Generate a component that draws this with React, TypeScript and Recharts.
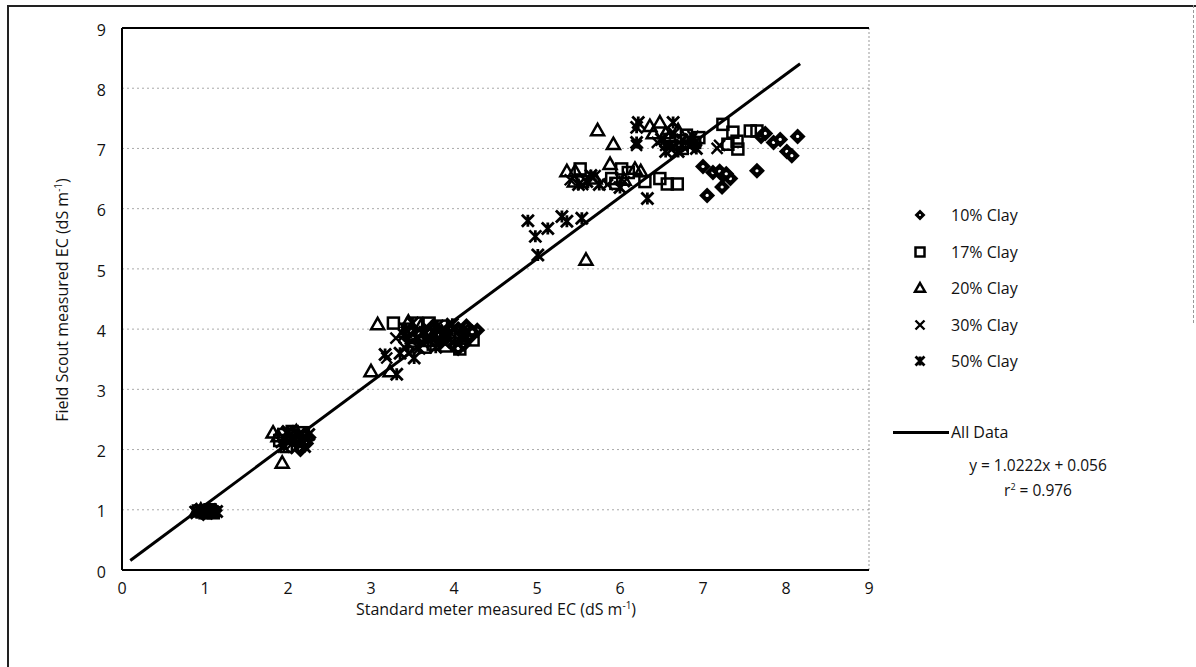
import React from "react";
import {
  ScatterChart,
  Scatter,
  XAxis,
  YAxis,
  CartesianGrid,
  ReferenceLine,
} from "recharts";

// readings: [standard meter EC, Field Scout EC]
const clay10 = [
  [0.95, 0.97], [1.02, 0.98], [1.08, 0.96], [1.12, 0.99], [0.98, 0.94], [1.05, 1.0],
  [2.0, 2.2], [2.1, 2.15], [2.2, 2.25], [2.25, 2.2], [2.15, 2.0], [2.22, 2.1], [2.05, 2.28],
  [3.8, 3.9], [3.9, 3.85], [4.0, 3.72], [4.05, 3.68], [4.05, 4.0], [4.1, 3.8],
  [4.12, 3.75], [4.2, 3.88], [4.28, 3.98], [3.7, 3.95], [4.15, 4.05], [3.95, 4.02],
  [4.22, 3.95], [3.85, 3.8], [3.6, 3.82], [3.75, 4.05],
  [7.0, 6.7], [7.05, 6.22], [7.12, 6.6], [7.24, 6.55], [7.33, 6.5], [7.23, 6.36],
  [7.65, 6.63], [7.7, 7.2], [7.75, 7.25], [7.85, 7.1], [7.93, 7.15], [8.01, 6.95],
  [8.07, 6.88], [8.14, 7.2], [7.2, 6.62], [7.28, 6.58], [6.9, 7.05],
];

const clay17 = [
  [0.92, 0.98], [1.0, 0.95], [1.06, 1.0], [1.1, 0.95],
  [1.9, 2.15], [1.95, 2.25], [2.05, 2.3], [2.12, 2.2], [2.18, 2.28], [1.98, 2.05],
  [3.27, 4.1], [3.45, 4.0], [3.5, 3.8], [3.6, 3.9], [3.75, 3.75], [3.85, 4.05],
  [4.07, 3.67], [4.23, 3.82], [3.95, 3.9], [3.7, 4.1], [4.0, 3.95], [3.55, 4.1],
  [3.65, 3.7], [3.9, 3.72], [3.48, 3.92], [3.82, 3.9], [4.08, 3.85],
  [5.52, 6.66], [5.55, 6.45], [5.9, 6.5], [6.02, 6.66], [6.1, 6.6], [6.48, 6.5],
  [6.57, 6.41], [6.69, 6.41], [6.9, 7.1], [7.24, 7.4], [7.3, 7.07], [7.36, 7.27],
  [7.41, 7.12], [7.42, 6.99], [7.57, 7.29], [7.65, 7.29], [6.6, 7.15], [6.75, 7.0],
  [5.95, 6.42], [6.3, 6.45], [6.8, 7.22], [6.95, 7.18],
];

const clay20 = [
  [0.95, 1.0], [1.05, 0.97], [0.9, 0.98],
  [1.82, 2.28], [1.93, 1.78], [2.0, 2.2], [1.88, 2.22], [2.1, 2.3],
  [3.0, 3.3], [3.08, 4.08], [3.23, 3.3], [3.4, 3.95], [3.6, 4.05], [3.75, 3.9],
  [3.5, 3.85], [3.85, 3.95], [3.45, 4.12], [3.68, 3.8],
  [5.36, 6.62], [5.46, 6.62], [5.59, 5.15], [5.7, 6.5], [5.73, 7.3], [5.88, 6.74],
  [5.92, 7.07], [6.18, 6.66], [6.25, 6.62], [6.36, 7.37], [6.48, 7.43], [6.6, 7.2],
  [6.8, 7.1], [6.4, 7.25], [5.45, 6.45], [6.05, 6.48], [6.7, 7.3], [6.55, 7.25],
];

const clay30 = [
  [0.98, 0.96], [1.1, 0.98], [0.88, 0.97], [1.04, 0.95],
  [1.98, 2.28], [2.05, 2.1], [2.15, 2.25], [2.1, 2.02], [1.92, 2.12],
  [3.19, 3.52], [3.3, 3.85], [3.4, 3.7], [3.55, 3.85], [3.7, 4.0], [3.95, 3.95],
  [3.45, 3.6], [3.62, 3.78], [3.8, 3.98], [4.1, 3.92], [3.58, 3.98], [3.88, 3.78],
  [5.55, 6.4], [5.7, 6.55], [5.85, 6.4], [6.05, 6.45], [6.2, 7.05], [6.55, 7.05],
  [6.65, 7.25], [7.17, 7.0], [7.2, 7.05], [6.45, 7.1], [6.75, 7.15], [5.4, 6.48],
  [6.62, 6.98], [6.88, 7.2],
];

const clay50 = [
  [0.9, 0.95], [1.03, 0.97], [0.95, 1.0], [1.14, 0.97],
  [1.95, 2.05], [2.08, 2.18], [2.2, 2.05], [2.0, 2.3], [2.25, 2.25],
  [3.17, 3.58], [3.31, 3.25], [3.35, 3.6], [3.4, 3.9], [3.45, 3.75], [3.5, 4.1],
  [3.65, 3.95], [3.8, 4.05], [3.42, 4.0], [3.58, 3.68], [3.72, 3.85], [3.98, 4.08],
  [4.12, 4.0], [3.52, 3.52], [3.92, 3.85], [3.78, 3.7],
  [4.89, 5.8], [4.98, 5.54], [5.01, 5.23], [5.13, 5.67], [5.3, 5.87], [5.36, 5.79],
  [5.54, 5.84],
  [5.6, 6.45], [5.75, 6.4], [6.0, 6.35], [6.2, 7.1], [6.2, 7.35], [6.22, 7.43],
  [6.33, 6.17], [6.5, 7.15], [6.55, 6.95], [6.64, 7.43], [6.7, 6.95], [6.6, 7.05],
  [6.85, 7.15], [5.65, 6.55], [5.5, 6.4], [6.75, 7.05], [6.92, 7.0],
];

const fitX = [0.1, 8.17];
const slope = 1.0222;
const intercept = 0.056;

const ticks = [0, 1, 2, 3, 4, 5, 6, 7, 8, 9];
const gridTicks = [1, 2, 3, 4, 5, 6, 7, 8];

const toPts = (arr: number[][]) => arr.map(([x, y]) => ({ x, y }));
const fitLine = fitX.map((x) => ({ x, y: slope * x + intercept }));

const FONT = "'Open Sans', 'Liberation Sans', sans-serif";

function Diamond({ cx, cy, r = 8 }: any) {
  return (
    <g>
      <polygon points={`${cx},${cy - r} ${cx + r},${cy} ${cx},${cy + r} ${cx - r},${cy}`} fill="#000" />
      <circle cx={cx} cy={cy} r={r * 0.2} fill="#fff" />
    </g>
  );
}

function Square({ cx, cy, r = 5.5 }: any) {
  return <rect x={cx - r} y={cy - r} width={2 * r} height={2 * r} fill="none" stroke="#000" strokeWidth={2.5} />;
}

function Triangle({ cx, cy, r = 6.5 }: any) {
  return (
    <polygon
      points={`${cx},${cy - r} ${cx + r},${cy + r * 0.75} ${cx - r},${cy + r * 0.75}`}
      fill="none"
      stroke="#000"
      strokeWidth={2.5}
    />
  );
}

function Cross({ cx, cy, r = 5.5 }: any) {
  return (
    <path d={`M${cx - r},${cy - r}L${cx + r},${cy + r}M${cx - r},${cy + r}L${cx + r},${cy - r}`} stroke="#000" strokeWidth={2.4} />
  );
}

function Star({ cx, cy, r = 6 }: any) {
  return (
    <path
      d={`M${cx - r},${cy - r}L${cx + r},${cy + r}M${cx - r},${cy + r}L${cx + r},${cy - r}M${cx},${cy - r}L${cx},${cy + r}`}
      stroke="#000"
      strokeWidth={2.8}
    />
  );
}

const series = [
  { name: "10% Clay", data: clay10, Shape: Diamond, legendR: 5.5 },
  { name: "17% Clay", data: clay17, Shape: Square, legendR: 4.5 },
  { name: "20% Clay", data: clay20, Shape: Triangle, legendR: 5 },
  { name: "30% Clay", data: clay30, Shape: Cross, legendR: 4.5 },
  { name: "50% Clay", data: clay50, Shape: Star, legendR: 4.5 },
];

export default function App() {
  return (
    <div style={{ position: "absolute", left: 0, top: 0, width: 1196, height: 667, background: "#fff", fontFamily: FONT, color: "#111" }}>
      {/* outer frame */}
      <div style={{ position: "absolute", left: 7, top: 5, width: 1187, height: 662, borderLeft: "2px solid #222", borderTop: "2px solid #222" }} />
      <div style={{ position: "absolute", left: 1193, top: 5, height: 318, borderLeft: "1px dashed #999" }} />

      <ScatterChart width={1196} height={667} margin={{ top: 28, right: 327, bottom: 67, left: 82 }} style={{ position: "absolute", left: 0, top: 0 }}>
        <CartesianGrid vertical={false} horizontalValues={gridTicks} stroke="#aaa" strokeDasharray="2 3" />
        <XAxis
          type="number"
          dataKey="x"
          domain={[0, 9]}
          ticks={ticks}
          tickLine={false}
          axisLine={{ stroke: "#000", strokeWidth: 2 }}
          tick={{ fontSize: 16, fill: "#111", fontFamily: FONT, dy: 5 }}
          height={30}
        />
        <YAxis
          type="number"
          dataKey="y"
          domain={[0, 9]}
          ticks={ticks}
          tickLine={false}
          axisLine={{ stroke: "#000", strokeWidth: 2 }}
          tick={{ fontSize: 16, fill: "#111", fontFamily: FONT, dx: -8, dy: 2 }}
          width={40}
        />
        <ReferenceLine x={9} stroke="#999" strokeDasharray="2 2" />
        {series.map((s) => (
          <Scatter
            key={s.name}
            name={s.name}
            data={toPts(s.data)}
            shape={(p: any) => <s.Shape cx={p.cx} cy={p.cy} />}
            isAnimationActive={false}
          />
        ))}
        <Scatter
          name="All Data"
          data={fitLine}
          line={{ stroke: "#000", strokeWidth: 3 }}
          shape={() => <g />}
          isAnimationActive={false}
        />
      </ScatterChart>
      <div style={{ position: "absolute", left: 122, top: 27, width: 747, height: 2, background: "#000" }} />

      {/* axis titles */}
      <div style={{ position: "absolute", left: 496, top: 598, transform: "translateX(-50%)", fontSize: 16, whiteSpace: "nowrap" }}>
        Standard meter measured EC (dS m<sup style={{ fontSize: 10 }}>-1</sup>)
      </div>
      <div style={{ position: "absolute", left: 62, top: 300, transform: "translate(-50%, -50%) rotate(-90deg)", fontSize: 16, whiteSpace: "nowrap" }}>
        Field Scout measured EC (dS m<sup style={{ fontSize: 10 }}>-1</sup>)
      </div>

      {/* legend */}
      {series.map((s, i) => (
        <div key={s.name} style={{ position: "absolute", left: 910, top: 204 + i * 36.5, height: 22, display: "flex", alignItems: "center", fontSize: 16 }}>
          <svg width={20} height={20} style={{ marginRight: 21 }}>
            <s.Shape cx={10} cy={10} r={s.legendR} />
          </svg>
          {s.name}
        </div>
      ))}
      <div style={{ position: "absolute", left: 893, top: 421, height: 22, display: "flex", alignItems: "center", fontSize: 16 }}>
        <div style={{ width: 56, height: 3, background: "#000", marginRight: 2 }} />
        All Data
      </div>
      <div style={{ position: "absolute", left: 1038, top: 455, transform: "translateX(-50%)", fontSize: 15.5, textAlign: "center", lineHeight: "21px", whiteSpace: "nowrap" }}>
        <div>y = 1.0222x + 0.056</div>
        <div>
          r<sup style={{ fontSize: 9 }}>2</sup> = 0.976
        </div>
      </div>
    </div>
  );
}
